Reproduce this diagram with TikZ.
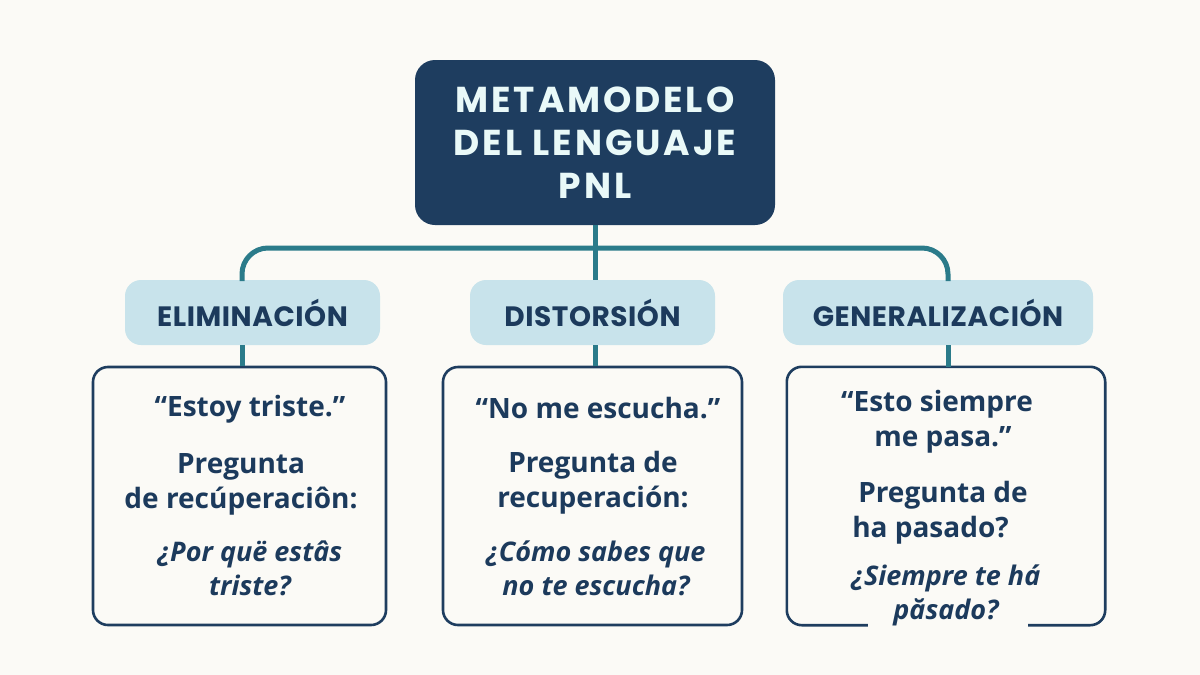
\documentclass[tikz,border=0pt]{standalone}
\usepackage{fontspec}
\setmainfont{Open Sans}
\newfontfamily\headfont[LetterSpace=2]{Poppins}
\newfontfamily\titlefont[LetterSpace=8]{Poppins}
\usetikzlibrary{calc}
\definecolor{bg}{HTML}{FBFAF6}
\definecolor{navy}{HTML}{1E3D5F}
\definecolor{teal}{HTML}{2B7B8A}
\definecolor{hfill}{HTML}{C8E3EB}
\definecolor{titletxt}{HTML}{E9F9F8}
\definecolor{txt}{HTML}{1C3A5C}
\tikzset{
  titlebox/.style={fill=navy, rounded corners=20pt, minimum width=360pt, minimum height=165pt, inner sep=0pt},
  headbox/.style={fill=hfill, rounded corners=16pt, minimum height=65pt, inner sep=0pt, text=txt, font=\headfont\fontsize{28}{34}\selectfont\bfseries},
  exbox/.style={draw=navy, line width=2.6pt, rounded corners=15pt, minimum height=258pt, inner sep=0pt},
  link/.style={draw=teal, line width=5pt},
  quote/.style={text=txt, align=center, font=\fontsize{28}{35}\selectfont\bfseries},
  ask/.style={text=txt, align=center, font=\fontsize{28}{35}\selectfont\bfseries},
  answer/.style={text=txt, align=center, font=\fontsize{27}{34}\selectfont\bfseries\itshape},
}
\begin{document}
\begin{tikzpicture}[x=1pt,y=-1pt]
\useasboundingbox[fill=bg] (0,0) rectangle (1200,675);
% title
\node[titlebox, align=center, text=titletxt, font=\titlefont\fontsize{36}{43}\selectfont\bfseries] (t) at (595,142.5) {METAMODELO\\DEL LENGUAJE\\PNL};
% headers
\node[headbox, minimum width=255pt] (h1) at (252.5,312.5) {ELIMINACIÓN};
\node[headbox, minimum width=245pt] (h2) at (592.5,312.5) {DISTORSIÓN};
\node[headbox, minimum width=310pt] (h3) at (938,312.5) {GENERALIZACIÓN};
% example boxes
\node[exbox, minimum width=293pt] (b1) at (239.5,496) {};
\node[exbox, minimum width=299pt] (b2) at (592.5,496) {};
\node[minimum width=318pt, minimum height=258pt, inner sep=0pt] (b3) at (946,496) {};
\draw[navy, line width=2.6pt, rounded corners=15pt]
  ($(b3.south west)+(81,0)$) -| (b3.north west) -| (b3.south east) -- ($(b3.south east)+(-77,0)$);
% connectors
\coordinate (bus) at (0,248);
\coordinate (c1) at (242,281);
\coordinate (c3) at (948,281);
\draw[link, rounded corners=26pt] (c1) |- (t.south |- bus) -| (c3);
\draw[link] (t.south) -- (t.south |- h2.north);
\draw[link] (h1.south -| c1) -- (b1.north -| c1);
\draw[link] (h2.south -| t.south) -- (b2.north -| t.south);
\draw[link] (h3.south -| c3) -- (b3.north -| c3);
% box 1 texts
\node[quote] (q1) at (250,409) {“Estoy triste.”};
\node[ask] (p1) at (241,484) {Pregunta\\de recúperaciôn:};
\node[answer] (a1) at (250,568) {¿Por quë estâs\\triste?};
% box 2 texts
\node[quote] (q2) at (598,408) {“No me escucha.”};
\node[ask] (p2) at (593,483) {Pregunta de\\recuperación:};
\node[answer] (a2) at (596,568) {¿Cómo sabes que\\no te escucha?};
% box 3 texts
\node[quote] (q3) at (937,422) {“Esto siempre\\\hspace*{12pt}me pasa.”};
\node[ask, align=left] (p3) at (940,513) {\hspace*{6pt}Pregunta de\\ha pasado?};
\node[answer] (a3) at (946,595) {¿Siempre te há\\păsado?};
\end{tikzpicture}
\end{document}
